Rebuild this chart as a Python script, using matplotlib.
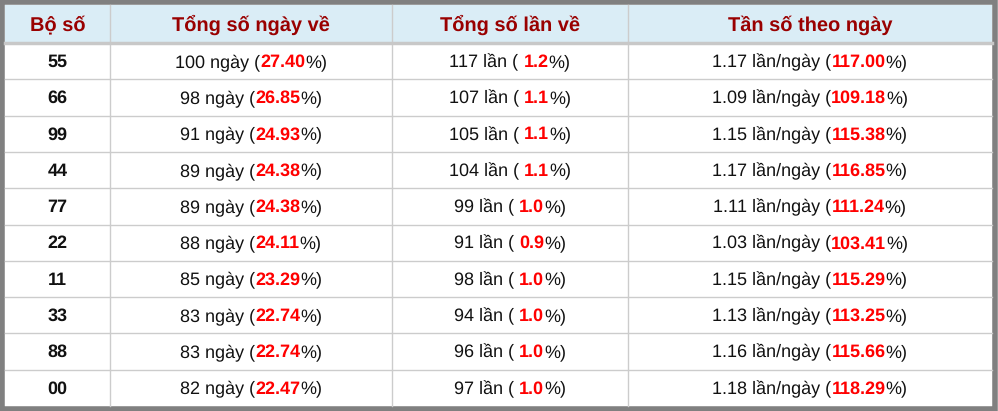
import matplotlib
matplotlib.use("Agg")
import matplotlib.pyplot as plt
from matplotlib.patches import Rectangle
plt.rcParams['text.hinting_factor'] = 1
plt.rcParams['text.hinting'] = 'none'

bo_so = ["55", "66", "99", "44", "77", "22", "11", "33", "88", "00"]
so_ngay = [100, 98, 91, 89, 89, 88, 85, 83, 83, 82]
pct_ngay = ["27.40", "26.85", "24.93", "24.38", "24.38", "24.11", "23.29", "22.74", "22.74", "22.47"]
so_lan = [117, 107, 105, 104, 99, 91, 98, 94, 96, 97]
pct_lan = ["1.2", "1.1", "1.1", "1.1", "1.0", "0.9", "1.0", "1.0", "1.0", "1.0"]
tan_so = ["1.17", "1.09", "1.15", "1.17", "1.11", "1.03", "1.15", "1.13", "1.16", "1.18"]
pct_tan = ["117.00", "109.18", "115.38", "116.85", "111.24", "103.41", "115.29", "113.25", "115.66", "118.29"]
headers = ["Bộ số", "Tổng số ngày về", "Tổng số lần về", "Tần số theo ngày"]

W, H = 998, 411
fig = plt.figure(figsize=(W/100, H/100), dpi=100)
ax = fig.add_axes([0, 0, 1, 1])
ax.set_xlim(0, W); ax.set_ylim(H, 0); ax.axis("off")
FONT = "Liberation Sans"
FS = 13.3

cols = [5, 110, 392, 628, 992]
top, hdr_bot, bot = 5, 43, 406
rh = (bot - hdr_bot) / len(bo_so)

ax.add_patch(Rectangle((cols[0], top), cols[-1]-cols[0], hdr_bot-top, color="#daedf6", lw=0))
for x in cols[1:-1]:
    ax.plot([x, x], [top, bot], color="#cccccc", lw=1)
ax.plot([cols[0], cols[-1]], [hdr_bot, hdr_bot], color="#c8c8c8", lw=2.5)
for i in range(1, len(bo_so)):
    y = hdr_bot + i*rh
    ax.plot([cols[0], cols[-1]], [y, y], color="#cccccc", lw=1)
ax.add_patch(Rectangle((2.5, 2.5), W-5, H-5, fill=False, ec="#808080", lw=4))

for j, h in enumerate(headers):
    ax.text((cols[j]+cols[j+1])/2, (top+hdr_bot)/2+1, h, ha="center", va="center",
            fontsize=14.5, fontweight="bold", color="#990000", family=FONT)

fig.canvas.draw()
rend = fig.canvas.get_renderer()

def width(s, bold=False):
    t = ax.text(0, 0, s, fontsize=FS, family=FONT, fontweight="bold" if bold else "normal")
    w = t.get_window_extent(rend).width
    t.remove()
    return w

def mixed(cx, cy, parts):
    ws = [width(s, b) for s, c, b in parts]
    x = cx - sum(ws)/2
    for (s, c, b), w in zip(parts, ws):
        ax.text(x, cy, s, ha="left", va="center", fontsize=FS, family=FONT,
                color=c, fontweight="bold" if b else "normal")
        x += w

K, R = "#111111", "#ff0000"
for i in range(len(bo_so)):
    cy = hdr_bot + (i+0.5)*rh + 1
    ax.text((cols[0]+cols[1])/2, cy, bo_so[i], ha="center", va="center", fontsize=FS,
            fontweight="bold", color=K, family=FONT)
    mixed((cols[1]+cols[2])/2, cy, [(f"{so_ngay[i]} ngày (", K, False), (pct_ngay[i], R, True), ("%)", K, False)])
    mixed((cols[2]+cols[3])/2, cy, [(f"{so_lan[i]} lần ( ", K, False), (pct_lan[i], R, True), ("%)", K, False)])
    mixed((cols[3]+cols[4])/2, cy, [(f"{tan_so[i]} lần/ngày (", K, False), (pct_tan[i], R, True), ("%)", K, False)])

fig.savefig("out.png", dpi=100)
